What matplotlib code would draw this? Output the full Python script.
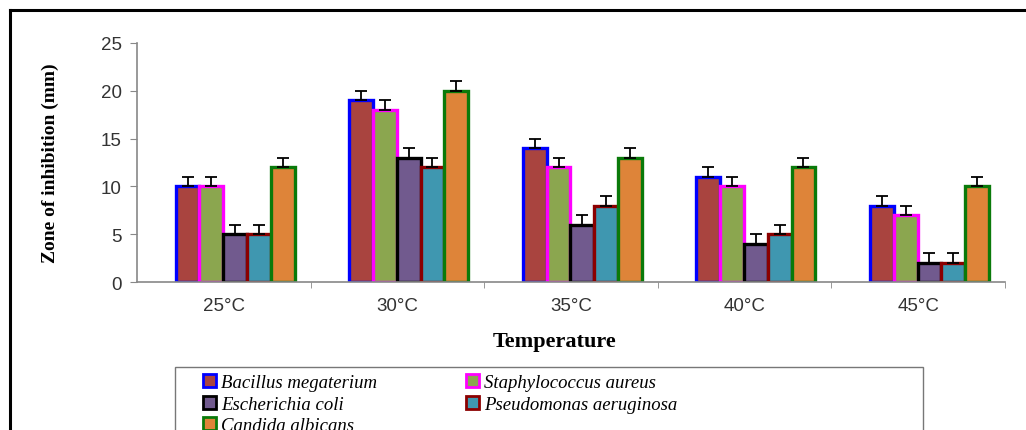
import numpy as np
import matplotlib
matplotlib.use('Agg')
import matplotlib.pyplot as plt
from matplotlib.patches import Patch, Rectangle
from matplotlib.lines import Line2D

# data
temps = ['25°C', '30°C', '35°C', '40°C', '45°C']
species = ['Bacillus megaterium', 'Staphylococcus aureus', 'Escherichia coli',
           'Pseudomonas aeruginosa', 'Candida albicans']
b_megaterium = [10, 19, 14, 11, 8]
s_aureus = [10, 18, 12, 10, 7]
e_coli = [5, 13, 6, 4, 2]
p_aeruginosa = [5, 12, 8, 5, 2]
c_albicans = [12, 20, 13, 12, 10]
errors = [1, 1, 1, 1, 1]

series = [b_megaterium, s_aureus, e_coli, p_aeruginosa, c_albicans]
face_cols = ['#A9443F', '#8BA64F', '#715A8E', '#3F97B0', '#DE8439']
edge_cols = ['#0000FF', '#FF00FF', '#000000', '#8B0000', '#0A7A0A']

W, H = 1026, 431
fig = plt.figure(figsize=(W / 100, H / 100), dpi=100)
ax = fig.add_axes([137 / W, (H - 283) / H, (1005 - 137) / W, (283 - 44) / H])

x = np.arange(len(temps))
bw = 0.137
for j, vals in enumerate(series):
    pos = x + 0.065 + (j - 2) * bw
    ax.bar(pos, vals, width=bw, color=face_cols[j], edgecolor=edge_cols[j],
           linewidth=2.4, zorder=2)
    ax.errorbar(pos, vals, yerr=[[0] * len(vals), errors], fmt='none',
                ecolor='black', elinewidth=1.3, capsize=4, capthick=1.3, zorder=3)

ax.set_xlim(-0.5, 4.5)
ax.set_ylim(0, 25)
ax.set_yticks(range(0, 26, 5))
ax.set_xticks(x)
ax.set_xticklabels(temps)
ax.set_xticks(np.arange(-0.5, 4.6, 1)[1:], minor=True)
ax.tick_params(axis='x', which='major', length=0, pad=11)
ax.tick_params(axis='x', which='minor', length=4, color='#888888', direction='out')
ax.tick_params(axis='y', length=5, color='#888888', pad=6)
for lab in ax.get_xticklabels() + ax.get_yticklabels():
    lab.set_fontfamily('Liberation Sans')
    lab.set_fontsize(13.5)
    lab.set_color('#333333')
for s in ['top', 'right']:
    ax.spines[s].set_visible(False)
for s in ['left', 'bottom']:
    ax.spines[s].set_color('#888888')
    ax.spines[s].set_linewidth(1.2)

ax.set_ylabel('Zone of inhibition (mm)', fontfamily='Liberation Serif',
              fontweight='bold', fontsize=14, labelpad=30)
fig.text(555 / W, 1 - 342 / H, 'Temperature', fontfamily='Liberation Serif',
         fontweight='bold', fontsize=16, ha='center', va='center')

# legend
handles = [Patch(facecolor=face_cols[j], edgecolor=edge_cols[j], linewidth=2)
           for j in range(5)]
order = [0, 2, 4, 1, 3]
fig.legend([handles[k] for k in order], [species[k] for k in order],
           loc='upper left', bbox_to_anchor=(192 / W, 1 - 364 / H), ncol=2,
           frameon=False, prop={'family': 'Liberation Serif', 'style': 'italic', 'size': 13.5},
           handlelength=0.7, handleheight=0.7, handletextpad=0.25,
           columnspacing=4.75, labelspacing=0.22, borderpad=0.1)
fig.patches.append(Rectangle((175 / W, -0.1), (923 - 175) / W, 0.1 + (H - 368) / H,
                             transform=fig.transFigure, fill=False,
                             edgecolor='#777777', linewidth=1))

# outer frame
fig.add_artist(Line2D([10 / W, 10 / W], [0, 1 - 11 / H], transform=fig.transFigure,
                      color='black', linewidth=2.2))
fig.add_artist(Line2D([10 / W, 1], [1 - 11 / H, 1 - 11 / H], transform=fig.transFigure,
                      color='black', linewidth=2.2))

fig.savefig('out.png', dpi=100)
